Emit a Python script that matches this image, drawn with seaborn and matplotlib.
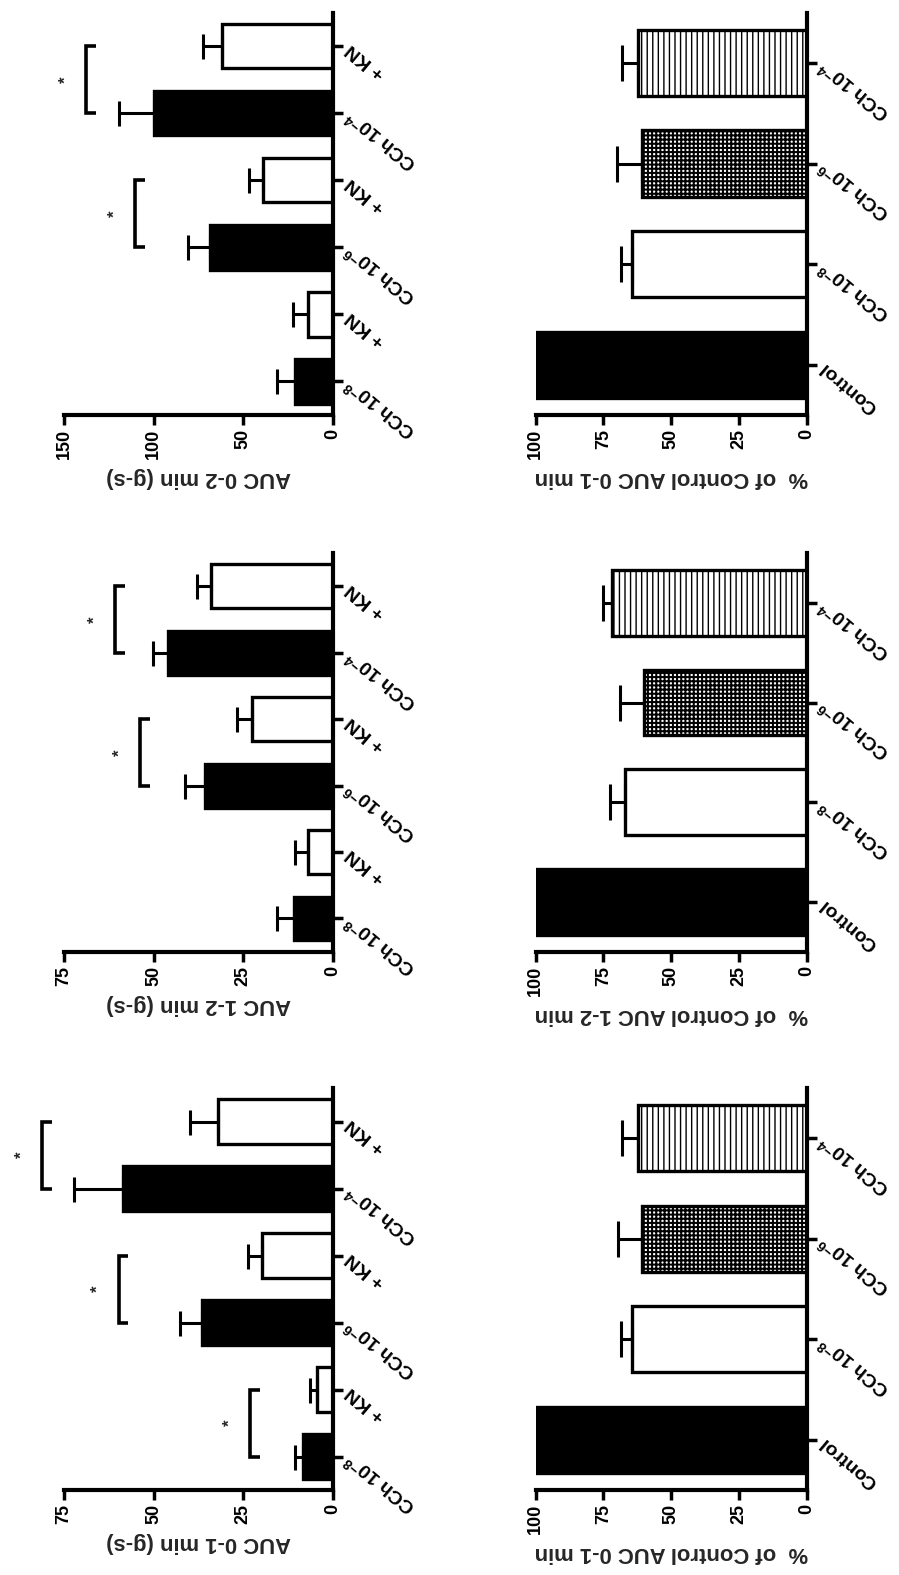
import numpy as np
import pandas as pd
import matplotlib
matplotlib.use("Agg")
import matplotlib.pyplot as plt
import seaborn as sns

# ---- data -------------------------------------------------------------
auc_groups = ["CCh 10$^{-8}$", "+ KN", "CCh 10$^{-6}$", "+ KN", "CCh 10$^{-4}$", "+ KN"]
pct_groups = ["Control", "CCh 10$^{-8}$", "CCh 10$^{-6}$", "CCh 10$^{-4}$"]

auc_0_1_mean = [8.3, 4.6, 36.6, 19.9, 58.5, 32.2]
auc_0_1_sem = [2.3, 1.8, 6.0, 3.7, 13.8, 7.6]
auc_1_2_mean = [10.8, 7.1, 35.7, 22.7, 45.9, 34.0]
auc_1_2_sem = [4.9, 3.5, 5.7, 4.1, 4.3, 3.8]
auc_0_2_mean = [21.2, 14.2, 68.6, 38.9, 99.9, 62.1]
auc_0_2_sem = [9.8, 8.3, 12.1, 7.8, 19.3, 10.6]

pct_0_1_mean = [100, 64.3, 60.9, 62.1]
pct_0_1_sem = [0, 4.2, 8.6, 6.2]
pct_1_2_mean = [100, 67.1, 59.9, 71.7]
pct_1_2_sem = [0, 5.5, 9.0, 3.6]
pct_0_2_mean = [100, 64.3, 60.9, 62.1]
pct_0_2_sem = [0, 4.2, 9.0, 6.2]

auc_0_1_ticks = [0, 25, 50, 75]
auc_1_2_ticks = [0, 25, 50, 75]
auc_0_2_ticks = [0, 50, 100, 150]
pct_ticks = [0, 25, 50, 75, 100]

# significance brackets: pairs of bar indices and the value where the bracket sits
auc_0_1_pairs = [(0, 1), (2, 3), (4, 5)]
auc_0_1_bracket = [23.1, 59.8, 81.1]
auc_1_2_pairs = [(2, 3), (4, 5)]
auc_1_2_bracket = [53.8, 60.7]
auc_0_2_pairs = [(2, 3), (4, 5)]
auc_0_2_bracket = [110.4, 137.7]

auc_fills = ["black", "white", "black", "white", "black", "white"]
auc_hatches = [None] * 6
pct_fills = ["black", "white", "white", "white"]
pct_hatches = [None, None, "++++", "|||"]

# ---- style ------------------------------------------------------------
sns.set_style("ticks")
plt.rcParams["font.family"] = ["Liberation Sans", "DejaVu Sans"]
plt.rcParams["font.weight"] = "bold"
plt.rcParams["mathtext.fontset"] = "custom"
plt.rcParams["mathtext.rm"] = "Liberation Sans:bold"
plt.rcParams["mathtext.bf"] = "Liberation Sans:bold"
plt.rcParams["mathtext.it"] = "Liberation Sans:bold"
plt.rcParams["mathtext.default"] = "bf"
plt.rcParams["hatch.linewidth"] = 1.0
plt.rcParams["hatch.color"] = "black"

W, H = 899, 1575
fig = plt.figure(figsize=(W / 100, H / 100), dpi=100, facecolor="white")


def rect(x0, x1, y0, y1):
    return [x0 / W, 1 - y1 / H, (x1 - x0) / W, (y1 - y0) / H]


def draw_panel(box, labels, means, sems, vmax, ticks, xlabel, fills, hatches,
               capsize, pairs=(), bracket_at=()):
    ax = fig.add_axes(box)
    n = len(labels)
    keys = [f"g{i}" for i in range(n)]
    df = pd.DataFrame({"group": keys, "value": means})
    sns.barplot(data=df, x="value", y="group", hue="group", order=keys,
                hue_order=keys, palette=dict(zip(keys, fills)), orient="h",
                width=0.66, errorbar=None, edgecolor="black", linewidth=2.4,
                saturation=1, legend=False, ax=ax)
    for cont, h in zip(ax.containers, hatches):
        for patch in cont:
            if h:
                patch.set_hatch(h)
                if h.startswith("+") and hasattr(patch, "set_hatch_linewidth"):
                    patch.set_hatch_linewidth(1.45)

    pos = np.arange(n)
    m = np.array(means, dtype=float)
    e = np.array(sems, dtype=float)
    keep = e > 0
    ax.errorbar(m[keep], pos[keep], xerr=[np.zeros(keep.sum()), e[keep]],
                fmt="none", ecolor="black", elinewidth=2.2, capsize=capsize,
                capthick=2.2, zorder=1)

    ax.set_ylim(-0.5, n - 0.5)
    ax.set_xlim(vmax, 0)

    for side in ("left", "top"):
        ax.spines[side].set_visible(False)
    for side in ("right", "bottom"):
        ax.spines[side].set_linewidth(3)
        ax.spines[side].set_color("black")

    ax.yaxis.tick_right()
    ax.set_yticks(pos)
    ax.set_yticklabels(labels, rotation=140, rotation_mode="anchor",
                       ha="right", va="center", fontsize=14, fontweight="bold")
    ax.tick_params(axis="y", length=7, width=2.5, pad=4, right=True,
                   left=False, colors="black")
    ax.set_xticks(ticks)
    ax.set_xticklabels([str(t) for t in ticks], rotation=90, fontsize=13,
                       fontweight="bold")
    ax.tick_params(axis="x", length=7, width=2.5, pad=3, colors="black")
    ax.set_ylabel("")
    ax.set_xlabel(xlabel, rotation=180, fontsize=15.8, fontweight="bold",
                  labelpad=6)

    stub = 0.037 * vmax
    for (a, b), v in zip(pairs, bracket_at):
        ax.plot([v - stub, v, v, v - stub], [a, a, b, b], color="black",
                lw=2.6, clip_on=False, solid_joinstyle="miter",
                solid_capstyle="butt")
        ax.text(v + 0.075 * vmax, (a + b) / 2, "*", rotation=90, ha="center",
                va="center", fontsize=12, fontweight="bold", clip_on=False)
    return ax


auc_x = (64, 333)
pct_x = (535.7, 806.7)
rows = [(12.7, 415), (553, 951.7), (1088, 1490)]

draw_panel(rect(*auc_x, *rows[0]), auc_groups, auc_0_2_mean, auc_0_2_sem, 150,
           auc_0_2_ticks, "AUC 0-2 min (g-s)", auc_fills, auc_hatches, 9,
           auc_0_2_pairs, auc_0_2_bracket)
draw_panel(rect(*auc_x, *rows[1]), auc_groups, auc_1_2_mean, auc_1_2_sem, 75,
           auc_1_2_ticks, "AUC 1-2 min (g-s)", auc_fills, auc_hatches, 9,
           auc_1_2_pairs, auc_1_2_bracket)
draw_panel(rect(*auc_x, *rows[2]), auc_groups, auc_0_1_mean, auc_0_1_sem, 75,
           auc_0_1_ticks, "AUC 0-1 min (g-s)", auc_fills, auc_hatches, 9,
           auc_0_1_pairs, auc_0_1_bracket)

draw_panel(rect(*pct_x, *rows[0]), pct_groups, pct_0_2_mean, pct_0_2_sem, 100,
           pct_ticks, "%  of Control AUC 0-1 min", pct_fills, pct_hatches, 13.3)
draw_panel(rect(*pct_x, *rows[1]), pct_groups, pct_1_2_mean, pct_1_2_sem, 100,
           pct_ticks, "%  of Control AUC 1-2 min", pct_fills, pct_hatches, 13.3)
draw_panel(rect(*pct_x, *rows[2]), pct_groups, pct_0_1_mean, pct_0_1_sem, 100,
           pct_ticks, "%  of Control AUC 0-1 min", pct_fills, pct_hatches, 13.3)

fig.savefig("out.png", dpi=100, facecolor="white")
